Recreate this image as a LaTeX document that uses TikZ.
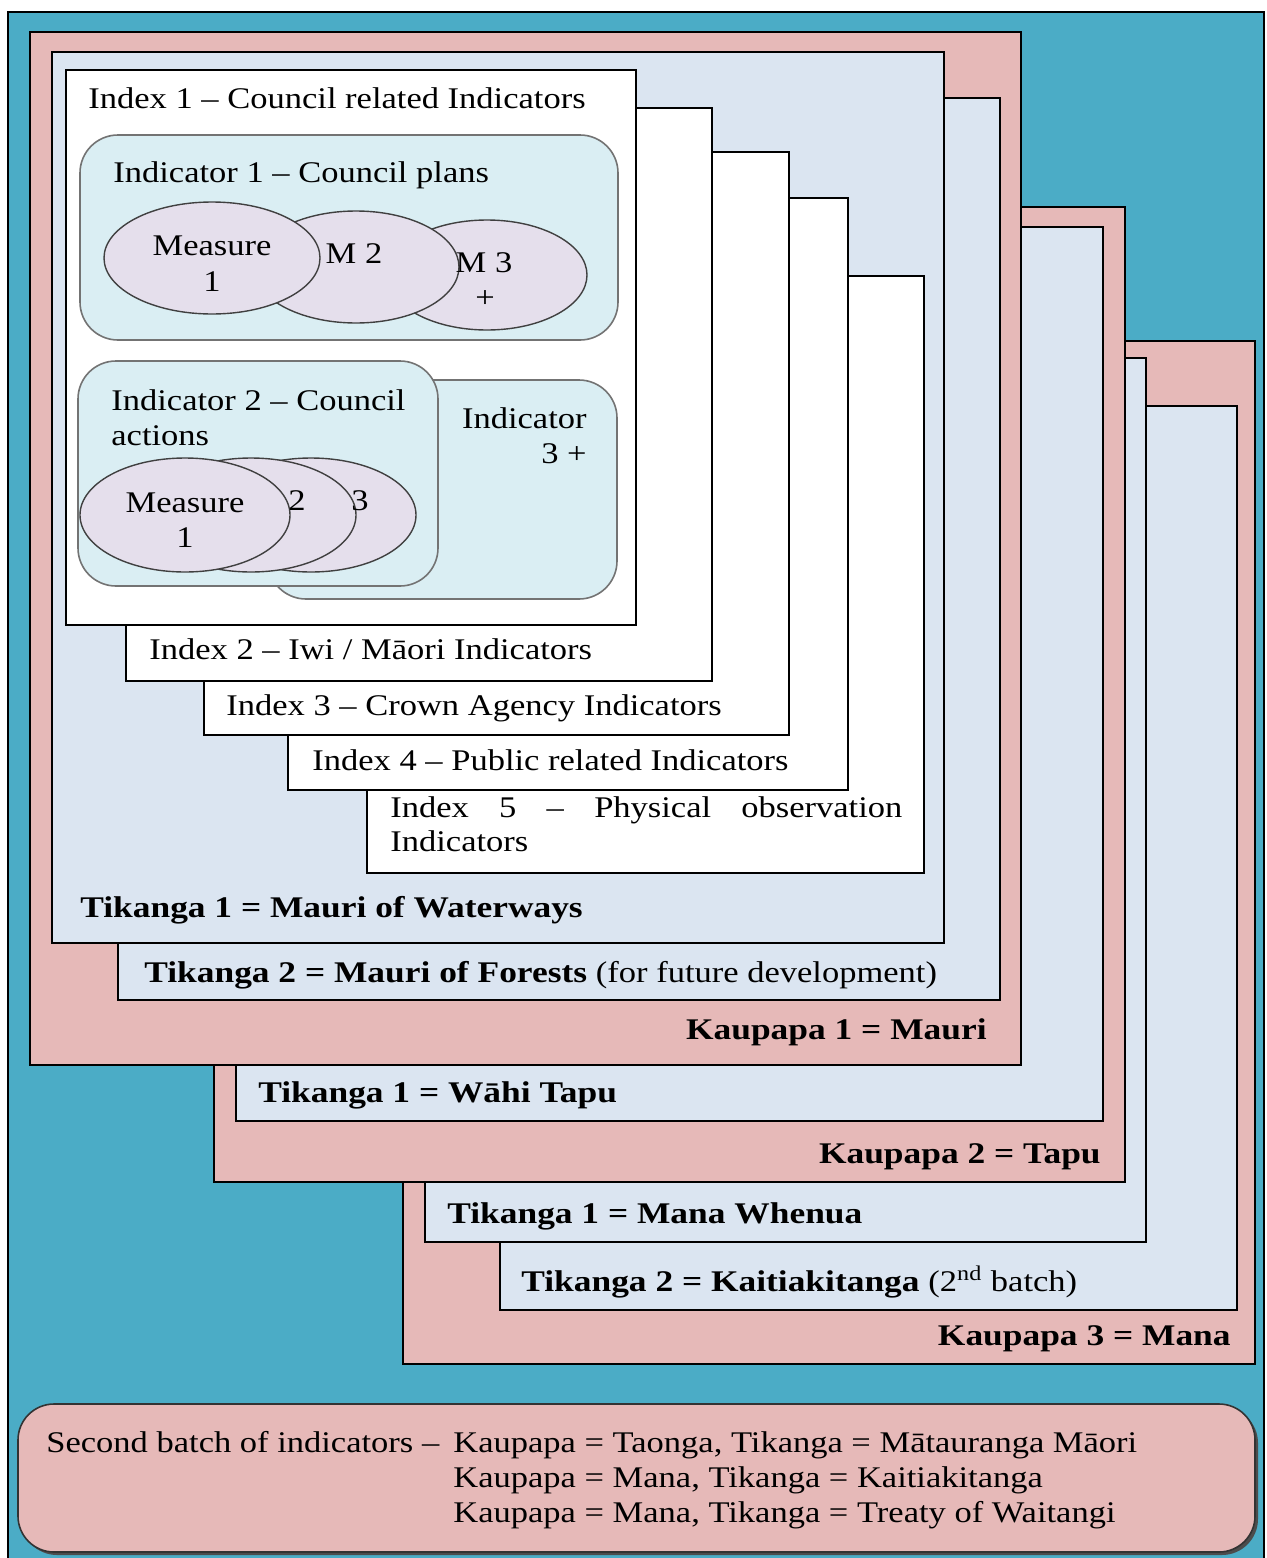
\documentclass[tikz,border=0pt]{standalone}
\usepackage{fontspec}
\setmainfont{Liberation Serif}[FakeStretch=1.15, BoldFeatures={FakeStretch=1.18}]
\usepackage{xcolor}
\usetikzlibrary{shapes,positioning}

\definecolor{tealbg}{HTML}{4BACC6}
\definecolor{kaupapapink}{HTML}{E6B9B8}
\definecolor{tikangablue}{HTML}{DBE5F1}
\definecolor{indicatorcyan}{HTML}{DAEEF3}
\definecolor{measurelilac}{HTML}{E5DFEC}

\begin{document}
\begin{tikzpicture}[x=0.5pt, y=-0.5pt,
    kaupapa/.style={draw=black, fill=kaupapapink, line width=0.8pt},
    tikanga/.style={draw=black, fill=tikangablue, line width=0.8pt},
    indexbox/.style={draw=black, fill=white, line width=0.8pt},
    indicatorbox/.style={draw=black!55, fill=indicatorcyan, line width=0.8pt, rounded corners=19pt},
    measure/.style={draw=black!75, fill=measurelilac, line width=0.7pt},
    txt/.style={inner sep=0pt, anchor=base west, font=\fontsize{15}{17.5}\selectfont},
    txtr/.style={txt, anchor=base east},
    txtc/.style={txt, anchor=base},
    heading/.style={txt, font=\fontsize{15}{17.5}\selectfont\bfseries},
    headingr/.style={heading, anchor=base east}]
    \useasboundingbox (0,0) rectangle (1266,1558);
    \fill[white] (0,0) rectangle (1266,1558);
    \clip (0,0) rectangle (1266,1558);
    \fill[tealbg] (8,12) rectangle (1264,1570);
    \draw[line width=0.8pt] (8,1570) -- (8,12) -- (1264,12) -- (1264,1570);

    \draw[kaupapa] (403,341) rectangle (1255,1364);
    \draw[tikanga] (500,406) rectangle (1237,1310);
    \draw[tikanga] (425,358) rectangle (1146,1242);
    \draw[kaupapa] (214,207) rectangle (1125,1182);
    \draw[tikanga] (236,227) rectangle (1103,1121);
    \draw[kaupapa] (30,32) rectangle (1021,1065);
    \draw[tikanga] (118,98) rectangle (1000,1000);
    \draw[tikanga] (52,52) rectangle (944,943);

    \draw[indexbox] (367,276) rectangle (924,873);
    \draw[indexbox] (288,198) rectangle (848,790);
    \draw[indexbox] (204,152) rectangle (789,735);
    \draw[indexbox] (126,108) rectangle (712,681);
    \draw[indexbox] (66,70) rectangle (636,625);

    \draw[indicatorbox] (80,135) rectangle (618,340);
    \draw[measure] (487,275) ellipse [x radius=100, y radius=55];
    \draw[measure] (356,267) ellipse [x radius=103, y radius=56];
    \draw[measure] (212,258) ellipse [x radius=108, y radius=56];

    \draw[indicatorbox] (268,380) rectangle (617,599);
    \draw[indicatorbox] (78,361) rectangle (438,586);
    \draw[measure] (311,515) ellipse [x radius=105, y radius=57];
    \draw[measure] (251,515) ellipse [x radius=105, y radius=57];
    \draw[measure] (185,515) ellipse [x radius=105, y radius=57];

    \fill[black!70] (21,1407) [rounded corners=18pt] rectangle (1258,1555);
    \draw[kaupapa, draw=black!80, rounded corners=18pt] (18,1404) rectangle (1255,1552);

    \node (idxOne) [txt] at (88,108) {Index 1 – Council related Indicators};
    \node (indOne) [txt] at (113,182) {Indicator 1 – Council plans};
    \node (mOneA) [txtc] at (212,255) {Measure};
    \node (mOneB) [txtc] at (212,291) {1};
    \node (mTwo) [txtc] at (354,263) {M 2};
    \node (mThreeA) [txtc] at (484,272) {M 3};
    \node (mThreeB) [txtc] at (485,307) {+};

    \node (indTwoA) [txt] at (111,410) {Indicator 2 – Council};
    \node (indTwoB) [txt] at (111,445) {actions};
    \node (indThreeA) [txtr] at (587,428) {Indicator};
    \node (indThreeB) [txtr] at (587,463) {3 +};
    \node (eOneA) [txtc] at (185,512) {Measure};
    \node (eOneB) [txtc] at (185,547) {1};
    \node (eTwo) [txtc] at (297,510) {2};
    \node (eThree) [txtc] at (360,510) {3};

    \node (idxTwo) [txt] at (149,659) {Index 2 – Iwi / Māori Indicators};
    \node (idxThree) [txt] at (226,715) {Index 3 – Crown Agency Indicators};
    \node (idxFour) [txt] at (312,770) {Index 4 – Public related Indicators};
    \node (idxFiveA) [txt] at (390,817) {\makebox[256pt][s]{Index 5 – Physical observation}};
    \node (idxFiveB) [txt] at (390,851) {Indicators};

    \node (tikWaterways) [heading] at (80,917) {Tikanga 1 = Mauri of Waterways};
    \node (tikForests) [heading] at (144,982) {Tikanga 2 = Mauri of Forests \mdseries(for future development)};
    \node (kauMauri) [headingr] at (987,1039) {Kaupapa 1 = Mauri};
    \node (tikWahi) [heading] at (258,1102) {Tikanga 1 = Wāhi Tapu};
    \node (kauTapu) [headingr] at (1101,1163) {Kaupapa 2 = Tapu};
    \node (tikWhenua) [heading] at (447,1223) {Tikanga 1 = Mana Whenua};
    \node (tikKaitiaki) [heading] at (521,1291) {Tikanga 2 = Kaitiakitanga \mdseries(2\textsuperscript{nd} batch)};
    \node (kauMana) [headingr] at (1231,1345) {Kaupapa 3 = Mana};

    \node (batchHead) [txt] at (46,1452) {Second batch of indicators –};
    \node (batchOne) [txt] at (453,1452) {Kaupapa = Taonga, Tikanga = Mātauranga Māori};
    \node (batchTwo) [txt] at (453,1487) {Kaupapa = Mana, Tikanga = Kaitiakitanga};
    \node (batchThree) [txt] at (453,1522) {Kaupapa = Mana, Tikanga = Treaty of Waitangi};
\end{tikzpicture}
\end{document}
